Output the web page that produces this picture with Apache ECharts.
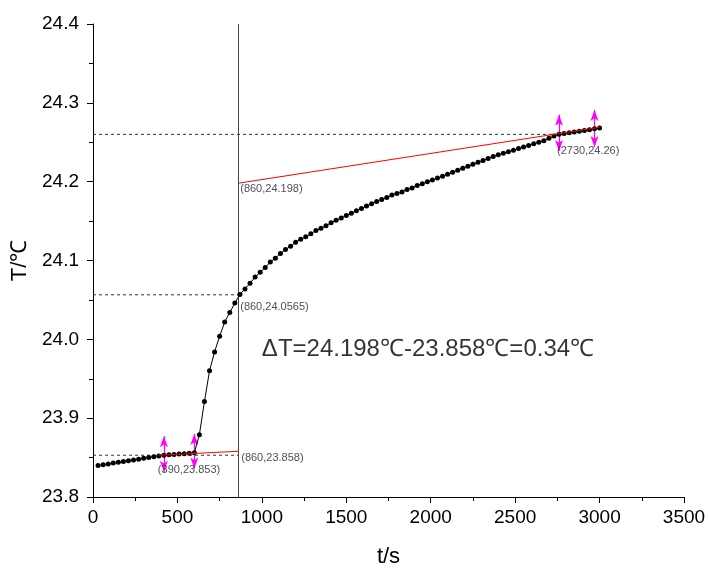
<!DOCTYPE html>
<html>
<head>
<meta charset="utf-8">
<script src="https://cdn.jsdelivr.net/npm/echarts@6/dist/echarts.min.js"></script>
<style>html,body{margin:0;padding:0;background:#fff}#c{width:709px;height:573px}</style>
</head>
<body>
<div id="c"></div>
<script>
// ---- data ----
var times = [30,60,90,120,150,180,210,240,270,300,330,360,390,420,450,480,510,540,570,600,
  630,660,690,720,750,780,810,840,870,900,930,960,990,1020,1050,1080,1110,1140,1170,1200,
  1230,1260,1290,1320,1350,1380,1410,1440,1470,1500,1530,1560,1590,1620,1650,1680,1710,1740,1770,1800,
  1830,1860,1890,1920,1950,1980,2010,2040,2070,2100,2130,2160,2190,2220,2250,2280,2310,2340,2370,2400,
  2430,2460,2490,2520,2550,2580,2610,2640,2670,2700,2730,2760,2790,2820,2850,2880,2910,2940,2970,3000];
var temps = [23.8400,23.8410,23.8420,23.8430,23.8440,23.8450,23.8460,23.8470,23.8480,23.8490,
  23.8500,23.8510,23.8520,23.8530,23.8535,23.8540,23.8545,23.8550,23.8555,23.8560,
  23.8790,23.9210,23.9600,23.9840,24.0040,24.0220,24.0340,24.0460,24.0570,24.0640,
  24.0710,24.0790,24.0850,24.0910,24.0980,24.1030,24.1090,24.1140,24.1180,24.1230,
  24.1270,24.1300,24.1340,24.1380,24.1410,24.1440,24.1480,24.1510,24.1540,24.1570,
  24.1600,24.1630,24.1660,24.1690,24.1720,24.1750,24.1775,24.1800,24.1830,24.1850,
  24.1870,24.1900,24.1920,24.1950,24.1975,24.2000,24.2020,24.2045,24.2070,24.2095,
  24.2120,24.2145,24.2170,24.2195,24.2220,24.2245,24.2270,24.2295,24.2320,24.2340,
  24.2360,24.2380,24.2400,24.2420,24.2440,24.2460,24.2480,24.2500,24.2520,24.2550,
  24.2580,24.2600,24.2610,24.2620,24.2630,24.2640,24.2650,24.2660,24.2670,24.2680];

var xTicks = [0,500,1000,1500,2000,2500,3000,3500];
var yTicks = [23.8,23.9,24.0,24.1,24.2,24.3,24.4];

var fitLowX = [390, 860];
var fitLowY = [23.853, 23.858];
var fitHighX = [860, 3000];
var fitHighY = [24.198, 24.269];

var vLineX = 860;
var hLineY = [24.26, 24.0565, 23.853];
var hLineEndX = [2730, 860, 860];

var arrowX = [420, 600, 2760, 2970];
var arrowTop = [23.877, 23.880, 24.285, 24.291];
var arrowBottom = [23.832, 23.836, 24.239, 24.244];

var annoX = [860, 860, 860, 390, 2730];
var annoY = [24.198, 24.0565, 23.858, 23.853, 24.26];
var annoText = ['(860,24.198)', '(860,24.0565)', '(860,23.858)', '(390,23.853)', '(2730,24.26)'];
var annoOffset = [[2,6],[2,12],[3,7],[-1,15],[3,17]];

var bigTextX = 1000, bigTextY = 23.9877;
var bigText = 'ΔT=24.198℃-23.858℃=0.34℃';

// ---- chart ----
var FONT = '"Liberation Sans", Arial, sans-serif';
var chart = echarts.init(document.getElementById('c'), null, {renderer: 'canvas'});

var series = [];
series.push({
  type: 'line',
  data: times.map(function(t, i){ return [t, temps[i]]; }),
  symbol: 'circle', symbolSize: 5, showSymbol: true,
  itemStyle: {color: '#000'},
  lineStyle: {color: '#000', width: 1},
  z: 5, animation: false
});
series.push({type:'line', data: fitLowX.map(function(x,i){return [x, fitLowY[i]];}),
  symbol:'none', lineStyle:{color:'#ff0000', width:1}, z:6, animation:false});
series.push({type:'line', data: fitHighX.map(function(x,i){return [x, fitHighY[i]];}),
  symbol:'none', lineStyle:{color:'#ff0000', width:1}, z:6, animation:false});
hLineY.forEach(function(y, i){
  series.push({type:'line', data:[[0, y],[hLineEndX[i], y]], symbol:'none',
    lineStyle:{color:'#333', width:1, type:[3,3]}, z:3, animation:false});
});
var arrowLines = arrowX.map(function(x, i){
  return [{coord:[x, arrowBottom[i]]}, {coord:[x, arrowTop[i]]}];
});
series.push({
  type:'line', data:[], animation:false,
  markLine: {
    silent:true, animation:false,
    symbol:['none','none'],
    label:{show:false},
    lineStyle:{color:'#444', width:1, type:'solid'},
    data:[[{coord:[vLineX, 23.8]},{coord:[vLineX, 24.4]}]]
  }
});
series.push({
  type:'line', data:[], animation:false, z:8,
  markLine: {
    silent:true, animation:false,
    symbol:['arrow','arrow'], symbolSize:[6,11],
    label:{show:false},
    lineStyle:{color:'#ff00ff', width:1.2, type:'solid'},
    itemStyle:{color:'#ff00ff'},
    data: arrowLines
  }
});
annoText.forEach(function(txt, i){
  series.push({
    type:'scatter', symbolSize:0, silent:true, animation:false, z:9,
    data:[[annoX[i], annoY[i]]],
    label:{show:true, position:'right', distance: annoOffset[i][0], offset:[0, annoOffset[i][1]],
      formatter: txt, color:'#222233', fontSize:11, fontFamily: FONT}
  });
});
series.push({
  type:'scatter', symbolSize:0, silent:true, animation:false, z:9,
  data:[[bigTextX, bigTextY]],
  label:{show:true, position:'right', distance:0, formatter: bigText,
    color:'#000', fontSize:24, fontFamily: FONT}
});

chart.setOption({
  animation:false,
  backgroundColor:'#fff',
  grid:{left:93, right:25, top:24, bottom:71, containLabel:false},
  xAxis:{
    type:'value', min:xTicks[0], max:xTicks[xTicks.length-1], interval:500,
    name:'t/s', nameLocation:'middle', nameGap:49,
    nameTextStyle:{fontSize:22, color:'#000', fontFamily:FONT},
    axisLine:{show:true, onZero:false, lineStyle:{color:'#000', width:1}},
    axisTick:{show:true, inside:false, length:6, lineStyle:{color:'#000'}},
    minorTick:{show:true, splitNumber:2, length:4, lineStyle:{color:'#000'}},
    axisLabel:{fontSize:19, color:'#000', margin:11, fontFamily:FONT,
      formatter:function(v){ return String(v); }},
    splitLine:{show:false}
  },
  yAxis:{
    type:'value', min:yTicks[0], max:yTicks[yTicks.length-1], interval:0.1,
    name:'T/℃', nameLocation:'middle', nameGap:62,
    nameTextStyle:{fontSize:22, color:'#000', fontFamily:FONT},
    axisLine:{show:true, onZero:false, lineStyle:{color:'#000', width:1}},
    axisTick:{show:true, inside:false, length:6, lineStyle:{color:'#000'}},
    minorTick:{show:true, splitNumber:2, length:4, lineStyle:{color:'#000'}},
    axisLabel:{fontSize:19, color:'#000', margin:14, fontFamily:FONT,
      formatter:function(v){ return v.toFixed(1); }},
    splitLine:{show:false}
  },
  series: series
});
</script>
</body>
</html>
